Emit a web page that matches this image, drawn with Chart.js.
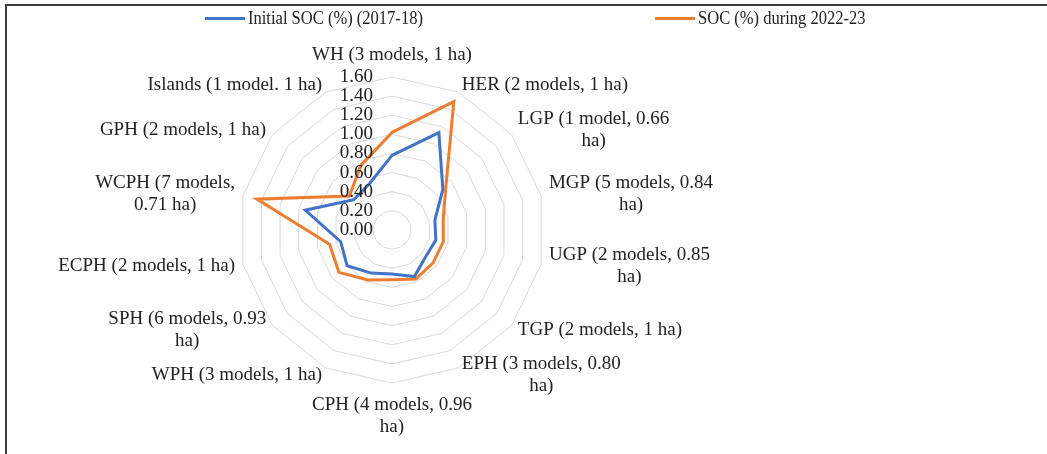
<!DOCTYPE html>
<html>
<head>
<meta charset="utf-8">
<script src="https://cdn.jsdelivr.net/npm/chart.js@4/dist/chart.umd.min.js"></script>
<style>
  html, body { margin: 0; padding: 0; background: #fff; }
  body { width: 1047px; height: 454px; position: relative; overflow: hidden; font-family: "Liberation Serif", "Times New Roman", serif; }
  #frame { position: absolute; left: 5px; top: 4px; width: 1100px; height: 500px; border-left: 2px solid #3c3c3c; border-top: 2px solid #3c3c3c; }
  #chart { position: absolute; left: 0; top: 0; }
  .lg { position: absolute; top: 6px; height: 24px; display: flex; align-items: center; white-space: nowrap; }
  .lg .swatch { width: 40px; height: 3px; margin-right: 3px; }
  .lg .txt { font-size: 19px; color: #222; display: inline-block; transform: scaleX(0.87); transform-origin: left center; }
</style>
</head>
<body>
<div id="frame"></div>
<canvas id="chart" width="1047" height="454"></canvas>
<script>
// category labels (multi-line where the original wraps)
const categories = [
  'WH (3 models, 1 ha)',
  'HER (2 models, 1 ha)',
  ['LGP (1 model, 0.66', 'ha)'],
  ['MGP (5 models, 0.84', 'ha)'],
  ['UGP (2 models, 0.85', 'ha)'],
  'TGP (2 models, 1 ha)',
  ['EPH (3 models, 0.80', 'ha)'],
  ['CPH (4 models, 0.96', 'ha)'],
  'WPH (3 models, 1 ha)',
  ['SPH (6 models, 0.93', 'ha)'],
  'ECPH (2 models, 1 ha)',
  ['WCPH (7 models,', '0.71 ha)'],
  'GPH (2 models, 1 ha)',
  'Islands (1 model. 1 ha)'
];

const initialSOC = [0.78, 1.13, 0.68, 0.46, 0.47, 0.45, 0.54, 0.46, 0.50, 0.60, 0.55, 0.93, 0.51, 0.54];
const soc2022 = [1.02, 1.49, 0.72, 0.55, 0.55, 0.55, 0.57, 0.52, 0.58, 0.71, 0.67, 1.45, 0.57, 0.75];

const seriesNames = ['Initial SOC (%) (2017-18)', 'SOC (%) during 2022-23'];
const tickLabels = ['0.00', '0.20', '0.40', '0.60', '0.80', '1.00', '1.20', '1.40', '1.60'];

const blue = '#4472C4';
const orange = '#ED7D31';
const textColor = '#222';
const labelFont = '19px "Liberation Serif", "Times New Roman", serif';

// legend (html, like Excel's wide-spaced legend)
const legendLeft = [205, 655];
[blue, orange].forEach((c, i) => {
  const d = document.createElement('div');
  d.className = 'lg';
  d.style.left = legendLeft[i] + 'px';
  d.innerHTML = '<span class="swatch" style="background:' + c + '"></span><span class="txt">' + seriesNames[i] + '</span>';
  document.body.appendChild(d);
});

// draws value-axis labels left of the centre and the category labels, Excel style
const radarText = {
  id: 'radarText',
  afterDraw(chart) {
    const scale = chart.scales.r;
    const ctx = chart.ctx;
    ctx.save();
    ctx.font = labelFont;
    ctx.fillStyle = textColor;

    ctx.textAlign = 'right';
    ctx.textBaseline = 'middle';
    tickLabels.forEach(t => {
      const y = scale.yCenter - scale.getDistanceFromCenterForValue(parseFloat(t));
      ctx.fillText(t, scale.xCenter - 19, y);
    });

    const n = categories.length;
    const lh = 22;
    categories.forEach((lab, i) => {
      const lines = Array.isArray(lab) ? lab : [lab];
      const w = Math.max(...lines.map(l => ctx.measureText(l).width));
      const deg = Math.round(i * 360 / n);
      const p = scale.getPointPosition(i, scale.drawingArea + 8);
      let cx, firstY;
      if (deg === 0) {
        cx = p.x;
        firstY = p.y - 14 - (lines.length - 1) * lh;
      } else if (deg === 180) {
        cx = p.x;
        firstY = p.y + 14;
      } else {
        cx = deg < 180 ? p.x + w / 2 : p.x - w / 2;
        firstY = p.y - (lines.length - 1) * lh / 2;
      }
      ctx.textAlign = 'center';
      lines.forEach((l, k) => ctx.fillText(l, cx, firstY + k * lh));
    });
    ctx.restore();
  }
};

new Chart(document.getElementById('chart').getContext('2d'), {
  type: 'radar',
  data: {
    labels: categories,
    datasets: [
      { label: seriesNames[0], data: initialSOC, borderColor: blue, backgroundColor: blue, borderWidth: 3, fill: false, pointRadius: 0, pointHoverRadius: 0, tension: 0 },
      { label: seriesNames[1], data: soc2022, borderColor: orange, backgroundColor: orange, borderWidth: 3, fill: false, pointRadius: 0, pointHoverRadius: 0, tension: 0 }
    ]
  },
  options: {
    responsive: false,
    animation: false,
    devicePixelRatio: 1,
    layout: { padding: { left: 239, right: 502, top: 77, bottom: 71 } },
    plugins: { legend: { display: false }, tooltip: { enabled: false } },
    scales: {
      r: {
        min: 0,
        max: 1.6,
        ticks: { stepSize: 0.2, display: false },
        grid: { color: '#d9d9d9', lineWidth: 1 },
        angleLines: { display: false },
        pointLabels: { display: false }
      }
    }
  },
  plugins: [radarText]
});
</script>
</body>
</html>
